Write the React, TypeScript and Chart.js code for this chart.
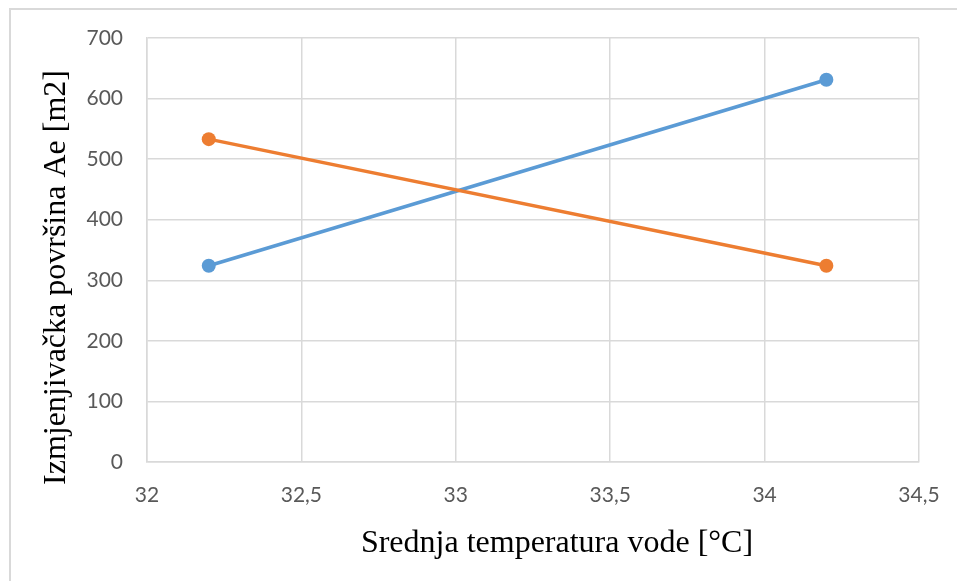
import React, { useEffect, useRef } from "react";
import { Chart, registerables } from "chart.js";

Chart.register(...registerables);

const temperatures = [32.2, 34.2];
const seriesBlue = [324, 631];
const seriesOrange = [533, 324];
const xTicks = [32, 32.5, 33, 33.5, 34, 34.5];
const yTicks = [0, 100, 200, 300, 400, 500, 600, 700];
const xTitle = "Srednja temperatura vode [°C]";
const yTitle = "Izmjenjivačka površina Ae [m2]";

const BLUE = "#5B9BD5";
const ORANGE = "#ED7D31";
const GRID = "#D9D9D9";

const titlePlugin = {
  id: "excelTitles",
  afterDraw(chart: any) {
    const ctx = chart.ctx;
    const a = chart.chartArea;
    ctx.save();
    ctx.fillStyle = "#000000";
    ctx.font = "32px 'Liberation Serif', 'Times New Roman', serif";
    ctx.textAlign = "center";
    ctx.textBaseline = "alphabetic";
    ctx.fillText(xTitle, 557, a.bottom + 90);
    ctx.translate(a.left - 82, 277.5);
    ctx.rotate(-Math.PI / 2);
    ctx.fillText(yTitle, 0, 0);
    ctx.restore();
  },
};

export default function App() {
  const ref = useRef<HTMLCanvasElement | null>(null);

  useEffect(() => {
    if (!ref.current) return;
    const chart = new Chart(ref.current, {
      type: "line",
      data: {
        datasets: [
          {
            label: "A",
            data: temperatures.map((t, i) => ({ x: t, y: seriesBlue[i] })),
            borderColor: BLUE,
            backgroundColor: BLUE,
            borderWidth: 3.5,
            pointRadius: 7,
            pointHoverRadius: 7,
            pointBorderWidth: 0,
            order: 2,
          },
          {
            label: "B",
            data: temperatures.map((t, i) => ({ x: t, y: seriesOrange[i] })),
            borderColor: ORANGE,
            backgroundColor: ORANGE,
            borderWidth: 3.5,
            pointRadius: 7,
            pointHoverRadius: 7,
            pointBorderWidth: 0,
            order: 1,
          },
        ],
      },
      options: {
        responsive: false,
        animation: false,
        devicePixelRatio: 1,
        layout: { padding: { left: 0, right: 38, top: 38, bottom: 0 } },
        plugins: { legend: { display: false }, tooltip: { enabled: false } },
        scales: {
          x: {
            type: "linear",
            min: xTicks[0],
            max: xTicks[xTicks.length - 1],
            afterBuildTicks(scale: any) {
              scale.ticks = xTicks.map((v) => ({ value: v }));
            },
            afterFit(scale: any) {
              scale.height = 119;
              scale.paddingLeft = 0;
              scale.paddingRight = 0;
            },
            grid: { color: GRID, lineWidth: 1.5, drawTicks: false },
            border: { color: GRID, width: 1.5 },
            ticks: {
              padding: 21,
              color: "#595959",
              font: { family: "Lato, Calibri, Carlito, sans-serif", size: 21 },
              maxRotation: 0,
              callback: (v: any) => String(v).replace(".", ","),
            },
          },
          y: {
            type: "linear",
            min: yTicks[0],
            max: yTicks[yTicks.length - 1],
            afterBuildTicks(scale: any) {
              scale.ticks = yTicks.map((v) => ({ value: v }));
            },
            afterFit(scale: any) {
              scale.width = 147;
              scale.paddingTop = 0;
              scale.paddingBottom = 0;
            },
            grid: { color: GRID, lineWidth: 1.5, drawTicks: false },
            border: { color: GRID, width: 1.5 },
            ticks: {
              padding: 24,
              color: "#595959",
              font: { family: "Lato, Calibri, Carlito, sans-serif", size: 21 },
              callback: (v: any) => String(v),
            },
          },
        },
      },
      plugins: [titlePlugin],
    });
    return () => chart.destroy();
  }, []);

  return (
    <div
      style={{
        position: "fixed",
        left: 0,
        top: 0,
        width: 957,
        height: 581,
        background: "#ffffff",
        overflow: "hidden",
      }}
    >
      <div
        style={{
          position: "absolute",
          left: 9,
          top: 8,
          width: 960,
          height: 600,
          border: "2px solid #D9D9D9",
          boxSizing: "border-box",
        }}
      />
      <canvas
        ref={ref}
        width={957}
        height={581}
        style={{ position: "absolute", left: 0, top: 0 }}
      />
    </div>
  );
}
